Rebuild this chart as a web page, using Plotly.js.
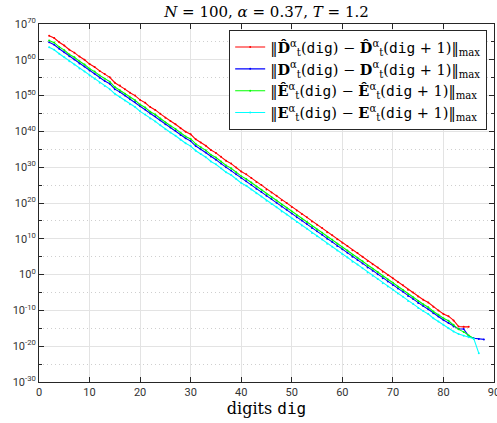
<!DOCTYPE html>
<html>
<head>
<meta charset="utf-8">
<script src="https://cdn.plot.ly/plotly-3.0.1.min.js"></script>
<style>html,body{margin:0;padding:0;background:#fff;}#chart{width:497px;height:423px;}</style>
</head>
<body>
<div id="chart"></div>
<script>
// digits (x values)
const digits = [2,3,4,5,6,7,8,9,10,11,12,13,14,15,16,17,18,19,20,21,22,23,24,25,26,27,28,29,30,31,32,33,34,35,36,37,38,39,40,41,42,43,44,45,46,47,48,49,50,51,52,53,54,55,56,57,58,59,60,61,62,63,64,65,66,67,68,69,70,71,72,73,74,75,76,77,78,79,80,81,82,83,84,85,86,87,88];

// log10 of the max-norm differences
const DhatLog10 = [66.7,66.1,64.9,64.0,62.8,62.0,60.9,60.0,58.8,58.0,56.9,56.0,55.1,53.6,52.8,51.8,50.8,50.0,48.8,48.0,46.8,46.0,44.9,43.8,42.9,42.0,40.9,39.9,39.2,37.8,36.9,36.0,34.8,34.0,32.9,31.8,31.0,29.9,28.8,28.0,27.0,25.9,25.0,23.8,22.9,22.0,20.8,20.0,18.9,17.9,16.9,16.0,14.8,13.9,13.0,11.8,11.0,9.9,8.9,8.0,6.8,6.0,5.0,3.8,2.9,2.0,0.8,-0.1,-1.0,-2.1,-3.0,-4.2,-5.0,-6.1,-7.0,-7.8,-9.0,-10.0,-11.0,-11.6,-12.8,-14.5,-14.6,-14.6];
const DLog10 = [64.9,64.2,63.1,62.1,61.0,60.1,59.0,58.1,57.0,56.1,55.0,54.1,53.3,51.8,51.0,50.0,49.0,48.2,47.0,46.1,45.0,44.2,43.1,42.0,41.1,40.2,39.0,38.1,37.3,35.9,35.0,34.1,33.0,32.1,31.0,30.0,29.1,28.0,27.0,26.1,25.1,24.0,23.1,22.0,21.1,20.1,19.0,18.1,17.1,16.0,15.1,14.1,13.0,12.1,11.1,10.0,9.1,8.0,7.1,6.1,5.0,4.1,3.1,2.0,1.1,0.1,-1.0,-1.9,-2.9,-3.9,-4.8,-6.0,-6.8,-7.9,-8.8,-9.7,-10.8,-11.7,-12.7,-13.5,-14.5,-15.2,-15.2,-17.2,-17.8,-18.0,-18.1];
const EhatLog10 = [65.4,64.8,63.6,62.7,61.5,60.7,59.6,58.7,57.5,56.7,55.6,54.7,53.9,52.4,51.5,50.5,49.5,48.7,47.5,46.7,45.5,44.7,43.6,42.5,41.6,40.7,39.6,38.6,37.9,36.5,35.6,34.7,33.5,32.7,31.6,30.5,29.7,28.6,27.5,26.7,25.7,24.6,23.7,22.5,21.6,20.7,19.5,18.7,17.6,16.6,15.6,14.7,13.5,12.6,11.7,10.5,9.7,8.6,7.6,6.7,5.5,4.7,3.7,2.5,1.6,0.7,-0.5,-1.4,-2.3,-3.4,-4.3,-5.5,-6.3,-7.4,-8.3,-9.1,-10.3,-11.2,-12.2,-12.9,-14.0,-15.3,-16.0,-17.0,-17.9];
const ELog10 = [63.5,62.8,61.7,60.7,59.6,58.7,57.6,56.7,55.6,54.7,53.6,52.7,51.8,50.5,49.6,48.6,47.6,46.8,45.6,44.7,43.6,42.8,41.7,40.6,39.7,38.8,37.7,36.7,35.9,34.6,33.7,32.8,31.6,30.8,29.7,28.6,27.8,26.7,25.6,24.8,23.8,22.7,21.8,20.6,19.7,18.8,17.6,16.8,15.7,14.7,13.7,12.8,11.6,10.7,9.8,8.6,7.8,6.7,5.7,4.8,3.6,2.8,1.8,0.6,-0.3,-1.2,-2.4,-3.3,-4.2,-5.3,-6.2,-7.4,-8.2,-9.3,-10.2,-11.0,-12.2,-13.1,-14.1,-15.0,-15.9,-16.6,-17.1,-17.5,-17.9,-22.0];

// tick labels
const xTicks = [0,10,20,30,40,50,60,70,80,90];
const yTickExponents = [-30,-20,-10,0,10,20,30,40,50,60,70];
const yMinorExponents = [-25,-15,-5,5,15,25,35,45,55,65];

const SERIF = 'DejaVu Serif';
const mono = "<span style='font-family:DejaVu Sans Mono'>dig</span>";
function label(sym, hat) {
  const s = "<b>" + sym + (hat ? "\u0302" : "") + "</b><sup>α</sup><sub>t</sub>";
  return "\u2016" + s + "(" + mono + ") − " + s + "(" + mono + " + 1)\u2016<sub>max</sub>";
}

function trace(vals, name, color) {
  return {
    x: digits.slice(0, vals.length),
    y: vals.map(v => Math.pow(10, v)),
    type: 'scatter', mode: 'lines+markers', name: name,
    line: {color: color, width: 1.1},
    marker: {color: color, size: 2}
  };
}

const data = [
  trace(DhatLog10, label('D', true), '#ff0000'),
  trace(DLog10, label('D', false), '#0000ff'),
  trace(EhatLog10, label('E', true), '#00ff00'),
  trace(ELog10, label('E', false), '#00ffff')
];

const axisCommon = {
  showline: true, linecolor: '#262626', linewidth: 1, mirror: 'allticks',
  ticks: 'inside', ticklen: 5, tickcolor: '#262626',
  showgrid: true, gridcolor: '#e3e3e3', zeroline: false,
  ticklabeloverflow: 'allow',
  tickfont: {family: 'Roboto', size: 11, color: '#333333'}
};

const layout = {
  width: 497, height: 423,
  margin: {l: 39, r: 3, t: 24, b: 41},
  paper_bgcolor: '#ffffff', plot_bgcolor: '#ffffff',
  showlegend: true,
  title: {
    text: "<i>N</i> = 100, <i>α</i> = 0.37, <i>T</i> = 1.2",
    font: {family: SERIF, size: 15, color: '#000000'},
    x: 0.5, xref: 'paper', xanchor: 'center',
    y: 0.972, yref: 'container', yanchor: 'middle'
  },
  xaxis: Object.assign({}, axisCommon, {
    range: [0, 90], tickmode: 'array', tickvals: xTicks, ticktext: xTicks.map(String),
    title: {text: "digits " + mono, font: {family: SERIF, size: 16, color: '#000000'}, standoff: 3}
  }),
  yaxis: Object.assign({}, axisCommon, {
    type: 'log', range: [-30, 70],
    tickmode: 'array',
    tickvals: yTickExponents.map(e => Math.pow(10, e)),
    ticktext: yTickExponents.map(e => '10<sup>' + e + '</sup>'),
    minor: {
      tickmode: 'array', tickvals: yMinorExponents.map(e => Math.pow(10, e)),
      ticks: 'inside', ticklen: 3, tickcolor: '#262626',
      showgrid: true, griddash: '1px,3px', gridcolor: '#cfcfcf', gridwidth: 1
    }
  }),
  legend: {
    x: 0.985, y: 0.983, xanchor: 'right', yanchor: 'top',
    bgcolor: '#ffffff', bordercolor: '#262626', borderwidth: 1,
    font: {family: SERIF, size: 14.5, color: '#000000'},
    itemwidth: 30, tracegroupgap: 0
  }
};

Plotly.newPlot('chart', data, layout, {displayModeBar: false, staticPlot: true});
</script>
</body>
</html>
